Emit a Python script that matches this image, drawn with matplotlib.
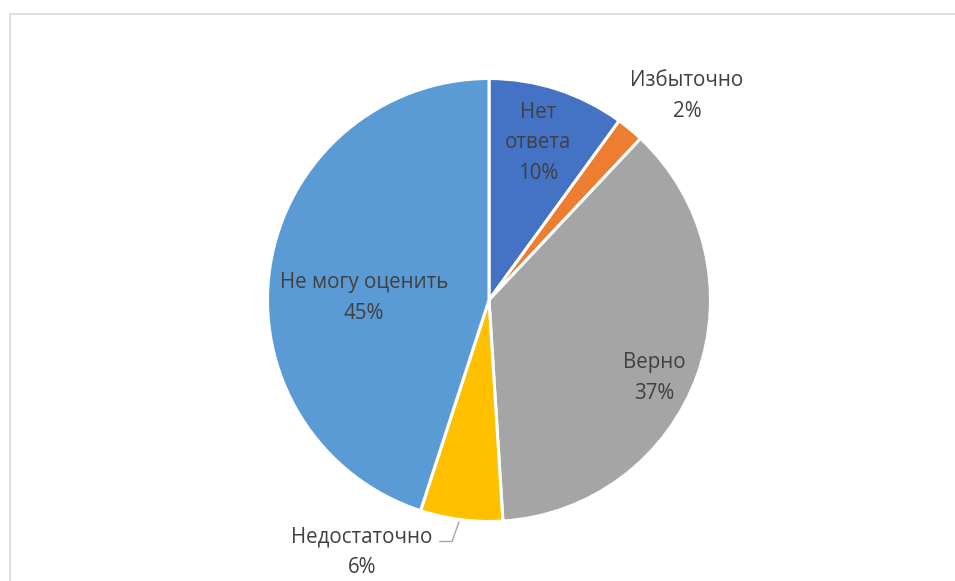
import matplotlib
matplotlib.use("Agg")
import matplotlib.pyplot as plt
from matplotlib.lines import Line2D

plt.rcParams['font.family'] = ['Open Sans', 'DejaVu Sans']

categories = ["Нет ответа", "Избыточно", "Верно", "Недостаточно", "Не могу оценить"]
values = [10, 2, 37, 6, 45]
label_texts = ["Нет\nответа\n10%", "Избыточно\n2%", "Верно\n37%", "Недостаточно\n6%", "Не могу оценить\n45%"]
colors = ["#4472C4", "#ED7D31", "#A5A5A5", "#FFC000", "#5B9BD5"]

W, H = 955, 581
fig = plt.figure(figsize=(W / 100, H / 100), dpi=100)

# pie in a dedicated axes (drawn first)
cx, cy, r = 489, 300, 221.5
pax = fig.add_axes([(cx - r) / W, (H - cy - r) / H, 2 * r / W, 2 * r / H])
pax.pie(values, colors=colors, startangle=90, counterclock=False,
        wedgeprops=dict(edgecolor="white", linewidth=2.2))
pax.set_xlim(-1, 1)
pax.set_ylim(-1, 1)
pax.set_aspect('equal')

# overlay axes in pixel coordinates for frame and labels
ax = fig.add_axes([0, 0, 1, 1], zorder=3)
ax.patch.set_alpha(0)
ax.set_xlim(0, W)
ax.set_ylim(H, 0)
ax.axis('off')

# chart frame (extends beyond right/bottom)
ax.add_line(Line2D([9.5, 9.5, W + 5], [H + 5, 13.5, 13.5], color="#D9D9D9", lw=1.2))

# label layout (pixel centres)
label_pos = [(538, 143), (687, 96), (654, 378), (362, 552), (364, 298)]
for txt, (x, y) in zip(label_texts, label_pos):
    ax.text(x, y, txt, ha="center", va="center", fontsize=14.8, color="#404040",
            linespacing=1.62, zorder=5)

# leader line for small slice label
ax.add_line(Line2D([440, 452, 459], [541.5, 541.5, 522], color="#A6A6A6", lw=1.0, zorder=5))

fig.savefig("out.png", dpi=100)
